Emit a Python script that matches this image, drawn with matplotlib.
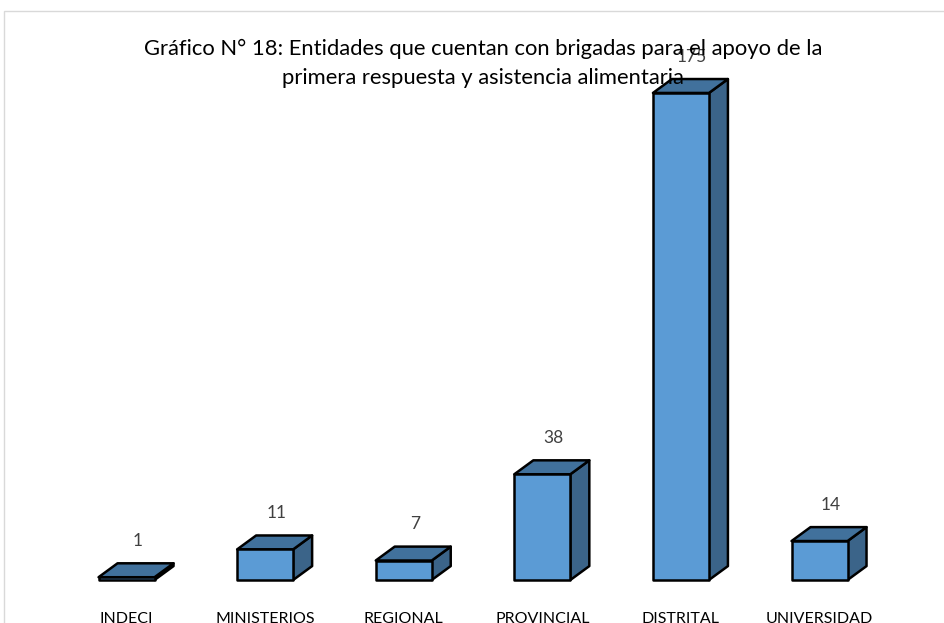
import matplotlib
matplotlib.use("Agg")
import matplotlib.pyplot as plt
from matplotlib.patches import Polygon, Rectangle

categorias = ["INDECI", "MINISTERIOS", "REGIONAL", "PROVINCIAL", "DISTRITAL", "UNIVERSIDAD"]
valores = [1, 11, 7, 38, 175, 14]

titulo = ("Gráfico N° 18: Entidades que cuentan con brigadas para el apoyo de la\n"
          "primera respuesta y asistencia alimentaria")

c_frente = "#5b9bd5"
c_techo = "#41719c"
c_lado = "#3b6489"

plt.rcParams['font.family'] = ['Lato', 'DejaVu Sans']

fig = plt.figure(figsize=(9.44, 6.23), dpi=100)
ax = fig.add_axes([0, 0, 1, 1])
ax.set_xlim(-0.913, 5.898)
ax.set_ylim(-15.45, 208.4)
ax.axis("off")

ancho = 0.404
dx = 0.137   # profundidad en x
dy = 5.0     # profundidad en y

for i, v in enumerate(valores):
    x0, x1 = i - ancho / 2, i + ancho / 2
    lado = [(x1, 0), (x1 + dx, dy), (x1 + dx, v + dy), (x1, v)]
    techo = [(x0, v), (x1, v), (x1 + dx, v + dy), (x0 + dx, v + dy)]
    ax.add_patch(Polygon(lado, closed=True, fc=c_lado, ec="black", lw=1.8, joinstyle="round"))
    ax.add_patch(Polygon(techo, closed=True, fc=c_techo, ec="black", lw=1.8, joinstyle="round"))
    ax.add_patch(Rectangle((x0, 0), ancho, v, fc=c_frente, ec="black", lw=1.8, joinstyle="round"))
    ax.text(i + 0.08, v + 13, str(v), ha="center", va="center", fontsize=12.5, color="#404040")
    ax.text(i, -11.6, categorias[i], ha="center", va="top", fontsize=11.5, color="#000000")

fig.text(0.512, 0.898, titulo, ha="center", va="center", fontsize=15.8,
         color="#000000", linespacing=1.6)

borde = Rectangle((4 / 944, -0.1), 1.2, 1 - 11 / 623 + 0.1, transform=fig.transFigure,
                  fill=False, ec="#d9d9d9", lw=1)
fig.patches.append(borde)

fig.savefig("out.png", dpi=100)
